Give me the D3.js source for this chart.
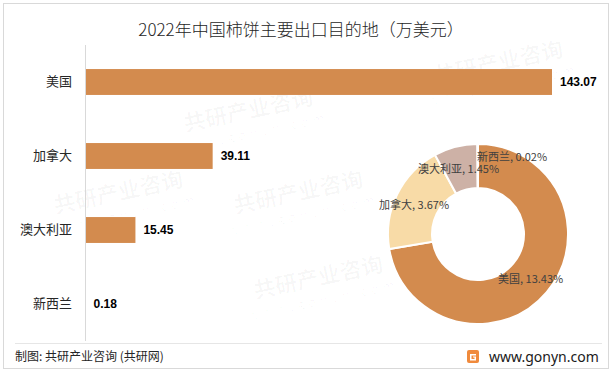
<!DOCTYPE html>
<html>
<head>
<meta charset="utf-8">
<script src="https://cdn.jsdelivr.net/npm/d3@7"></script>
<style>
  body { margin: 0; background: #fff; }
  text { font-family: "Noto Sans CJK SC", "Noto Sans", sans-serif; }
</style>
</head>
<body>
<div id="chart"></div>
<script>
// data
var countries = ["美国", "加拿大", "澳大利亚", "新西兰"];
var exportValues = [143.07, 39.11, 15.45, 0.18];
var pieNames = ["美国", "加拿大", "澳大利亚", "新西兰"];
var pieShares = [13.43, 3.67, 1.45, 0.02];

var svgWidth = 613;
var svgHeight = 372;
var barColor = "#D38B4E";
var pieColors = ["#D38B4E", "#F8DBA7", "#CDB1A6", "#D9C3B3"];

var svg = d3.select("#chart")
    .append("svg")
    .attr("width", svgWidth)
    .attr("height", svgHeight);

svg.append("rect")
    .attr("x", 3.5).attr("y", 3.5)
    .attr("width", 605).attr("height", 365)
    .attr("fill", "#fff")
    .attr("stroke", "#d9d9d9");

// faint watermarks
var wmGroup = svg.append("g").attr("fill", "#000").attr("fill-opacity", 0.03);
var wmSpots = [[250, 118], [300, 200], [320, 285], [500, 70], [120, 200]];
wmSpots.forEach(function (p) {
    var g = wmGroup.append("g")
        .attr("transform", `translate(${p[0]},${p[1]}) rotate(-12)`);
    g.append("text").attr("text-anchor", "middle")
        .style("font-size", "22px").style("font-weight", "bold")
        .text("共研产业咨询");
    g.append("text").attr("text-anchor", "middle").attr("y", 20)
        .style("font-size", "13px").attr("letter-spacing", "4px")
        .text("www.gonyn.com");
});

// title
svg.append("text")
    .attr("x", 301).attr("y", 36)
    .attr("text-anchor", "middle")
    .attr("fill", "#262626")
    .style("font-size", "17px")
    .style("font-weight", 300)
    .text("2022年中国柿饼主要出口目的地（万美元）");

// bar chart
var margin = { left: 85, top: 45 };
var xScale = d3.scaleLinear()
    .domain([0, 143.07])
    .range([margin.left, 552]);

var yScale = d3.scaleBand()
    .domain(countries)
    .range([45, 341])
    .paddingInner(0.65)
    .paddingOuter(0.325);

var yAxis = svg.append("g")
    .attr("transform", `translate(${margin.left},0)`)
    .call(d3.axisLeft(yScale).tickSize(0).tickPadding(13));
yAxis.select(".domain").attr("stroke", "#d9d9d9").attr("d", "M0.5,45V341");
yAxis.selectAll("text")
    .attr("fill", "#262626")
    .style("font-size", "13px")
    .style("font-family", "'Noto Sans CJK SC', sans-serif");

svg.selectAll("rect.bar")
    .data(exportValues)
    .enter()
    .append("rect")
    .attr("class", "bar")
    .attr("x", xScale(0) + 1)
    .attr("y", (d, i) => yScale(countries[i]))
    .attr("width", d => xScale(d) - xScale(0) - 1)
    .attr("height", yScale.bandwidth())
    .attr("fill", barColor);

svg.selectAll("text.val")
    .data(exportValues)
    .enter()
    .append("text")
    .attr("class", "val")
    .attr("x", d => xScale(d) + 8)
    .attr("y", (d, i) => yScale(countries[i]) + yScale.bandwidth() / 2)
    .attr("dy", "0.35em")
    .attr("fill", "#000")
    .style("font-size", "12px")
    .style("font-weight", "bold")
    .style("font-family", "'Liberation Sans', sans-serif")
    .text(d => d.toFixed(2));

// donut
var cx = 478, cy = 234;
var pie = d3.pie().sort(null).value(d => d);
var arc = d3.arc().innerRadius(46).outerRadius(90);
var pieGroup = svg.append("g").attr("transform", `translate(${cx},${cy})`);
pieGroup.selectAll("path")
    .data(pie(pieShares))
    .enter()
    .append("path")
    .attr("d", arc)
    .attr("fill", (d, i) => pieColors[i])
    .attr("stroke", "#fff")
    .attr("stroke-width", 2);

var labelSpots = [[498, 283], [379, 209], [418, 173], [477, 161]];
svg.selectAll("text.plab")
    .data(pieShares)
    .enter()
    .append("text")
    .attr("class", "plab")
    .attr("x", (d, i) => labelSpots[i][0])
    .attr("y", (d, i) => labelSpots[i][1])
    .attr("fill", "#404040")
    .style("font-size", "11px")
    .text((d, i) => `${pieNames[i]}, ${d.toFixed(2)}%`);

// footer
svg.append("line")
    .attr("x1", 15).attr("x2", 602)
    .attr("y1", 343.5).attr("y2", 343.5)
    .attr("stroke", "#e6e6e6");
svg.append("text")
    .attr("x", 15).attr("y", 361)
    .attr("fill", "#262626")
    .style("font-size", "12px")
    .text("制图: 共研产业咨询 (共研网)");

var logo = svg.append("g").attr("transform", "translate(467,350)");
logo.append("rect").attr("width", 12).attr("height", 13).attr("rx", 2).attr("fill", "#F08A3C");
logo.append("path").attr("d", "M3,4H9V5.5H4.5V9H7.5V7.5H6V6.5H9V10.5H3Z").attr("fill", "#fff");
svg.append("text")
    .attr("x", 489).attr("y", 362)
    .attr("fill", "#1a1a1a")
    .style("font-size", "14px")
    .style("font-family", "'Noto Sans', sans-serif")
    .text("www.gonyn.com");
</script>
</body>
</html>
